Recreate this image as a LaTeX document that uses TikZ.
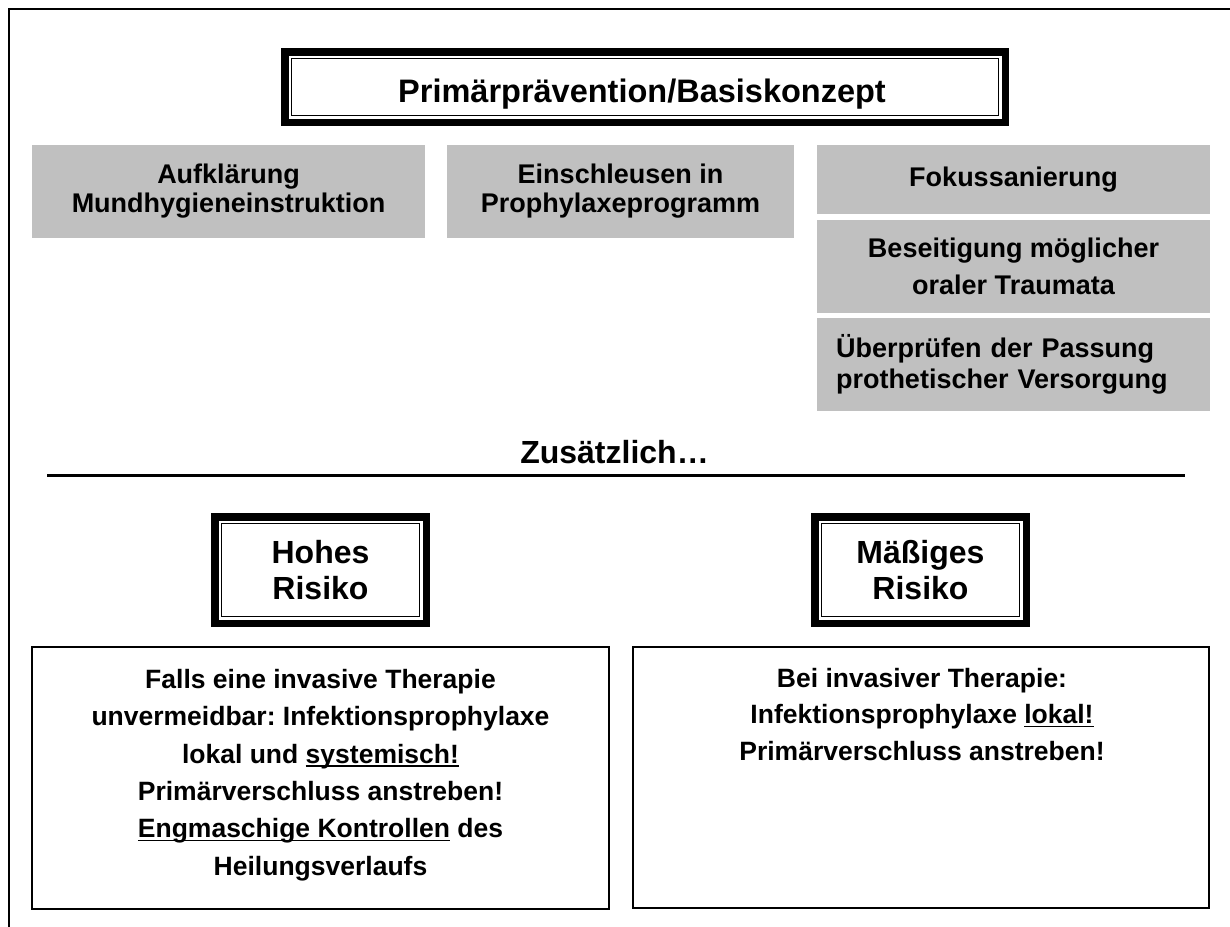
\documentclass[tikz,border=0pt]{standalone}
\usepackage{fontspec}
\setmainfont{Liberation Sans}
\frenchspacing
\definecolor{boxgray}{RGB}{192,192,192}
\newcommand\myul[1]{\leavevmode\setbox0\hbox{#1}\rlap{\rule[-3.5pt]{\wd0}{1.7pt}}\box0\relax}
\tikzset{
  every node/.style={inner sep=0pt, outer sep=0pt},
  graybox/.style={fill=boxgray, align=center, font=\bfseries\fontsize{27}{29}\selectfont},
  riskbox/.style={align=center, minimum width=219, minimum height=114, font=\bfseries\fontsize{32}{36}\selectfont},
  framebox/.style={draw, line width=2.5pt},
  bodytext/.style={align=center, anchor=north, font=\bfseries\fontsize{26.5}{37.4}\selectfont},
  heading/.style={anchor=base, font=\bfseries\fontsize{32.5}{39}\selectfont},
}
\begin{document}
\begin{tikzpicture}[x=1pt,y=-1pt]
\useasboundingbox (0,0) rectangle (1230,926);
\begin{scope}
  \clip (0,0) rectangle (1230,926);
  \draw[line width=2pt] (9,9) rectangle (1260,960);
\end{scope}

% title
\node[minimum width=728, minimum height=78] (title) at (645,87) {};
\node[heading] (titletext) at (642,102) {Primärprävention/Basiskonzept};

% gray boxes
\node[graybox, minimum width=393, minimum height=93] (g1) at (228.5,191.5) {Aufklärung\\Mundhygieneinstruktion};
\node[graybox, minimum width=347, minimum height=93] (g2) at (620.5,191.5) {Einschleusen in\\Prophylaxeprogramm};
\node[graybox, minimum width=393, minimum height=69] (g3) at (1013.5,179.5) {Fokussanierung};
\node[graybox, minimum width=393, minimum height=93, font=\bfseries\fontsize{27}{37}\selectfont] (g4) at (1013.5,266.5) {Beseitigung möglicher\\oraler Traumata};
\node[graybox, minimum width=393, minimum height=93, text width=355, align=left, font=\bfseries\fontsize{27}{31}\selectfont] (g5) at (1013.5,364.5) {Überprüfen der Passung\\prothetischer Versorgung};

% Zusaetzlich
\node[heading, font=\bfseries\fontsize{32}{38}\selectfont] (zus) at (614.5,463) {Zusätzlich…};
\coordinate (la) at (47,475.5);
\coordinate (lb) at (1185,475.5);
\draw[line width=3.5pt] (la) -- (lb);

% risk boxes
\node[riskbox] (hohes) at (320.5,570) {Hohes\\Risiko};
\node[riskbox] (massig) at (920.5,570) {Mäßiges\\Risiko};

\foreach \n in {title,hohes,massig}{
  \draw[line width=7.5pt] ([shift={(3.75,3.75)}]\n.north west) rectangle ([shift={(-3.75,-3.75)}]\n.south east);
  \draw[line width=1.5pt] ([shift={(10.5,10.5)}]\n.north west) rectangle ([shift={(-10.5,-10.5)}]\n.south east);
}

% bottom boxes
\node[framebox, minimum width=577, minimum height=262] (bl) at (320.5,778) {};
\node[bodytext] (bltext) at (320.5,669) {Falls eine invasive Therapie\\unvermeidbar: Infektionsprophylaxe\\lokal und \myul{systemisch!}\\Primärverschluss anstreben!\\\myul{Engmaschige Kontrollen} des\\Heilungsverlaufs};

\node[framebox, minimum width=576, minimum height=261] (br) at (921,777.5) {};
\node[bodytext, font=\bfseries\fontsize{26.5}{36.5}\selectfont] (brtext) at (922,668) {Bei invasiver Therapie:\\Infektionsprophylaxe \myul{lokal!}\\Primärverschluss anstreben!};
\end{tikzpicture}
\end{document}
